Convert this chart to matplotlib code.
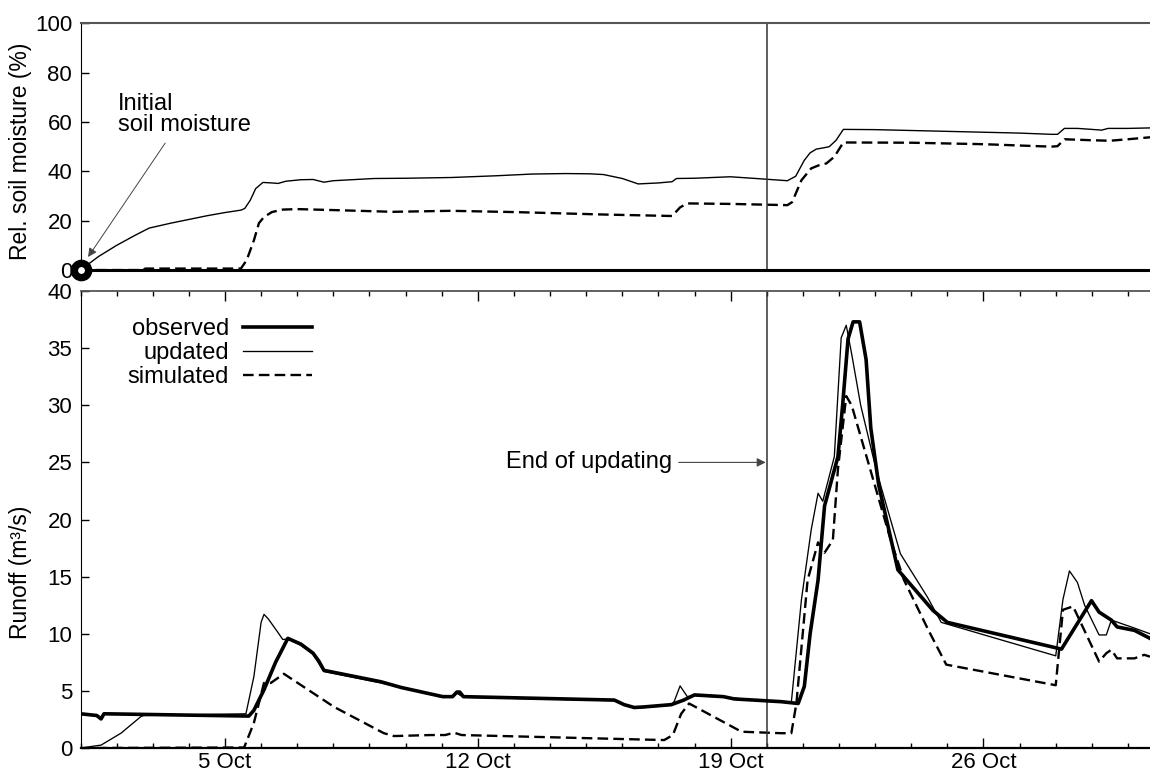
import matplotlib
matplotlib.use('Agg')
import matplotlib.pyplot as plt
from matplotlib.ticker import FixedLocator, MultipleLocator

plt.rcParams['font.family'] = ['Liberation Sans', 'DejaVu Sans']
plt.rcParams['font.size'] = 16

# time axis: day of October (1.0 = 1 Oct 00:00)
soil_upd_day = [1.0, 1.5, 2.0, 2.5, 2.9, 3.5, 4.0, 4.5, 5.0, 5.45, 5.55, 5.7, 5.85, 6.05,
                6.3, 6.47, 6.69, 7.1, 7.44, 7.74, 8.0, 9.13, 10.0, 11.26, 12.5, 13.5, 14.42,
                15.1, 15.48, 16.0, 16.44, 17.0, 17.38, 17.5, 18.0, 18.99, 19.8, 20.57, 20.8,
                21.04, 21.2, 21.37, 21.6, 21.73, 21.92, 22.12, 23.0, 25.0, 27.0, 27.88, 28.05,
                28.24, 28.6, 29.0, 29.27, 29.45, 30.0, 30.61]
soil_upd = [0, 5.5, 10, 14, 17, 19, 20.5, 22, 23.3, 24.3, 25, 28.3, 33, 35.5,
            35.3, 35.1, 36, 36.6, 36.7, 35.6, 36.2, 37.1, 37.2, 37.5, 38.2, 38.9, 39.1,
            39.0, 38.7, 37.1, 34.9, 35.3, 35.8, 37.1, 37.2, 37.8, 37.0, 36.2, 38.0,
            44.5, 47.5, 49, 49.6, 50, 52.6, 57, 56.9, 56.2, 55.5, 55, 55,
            57.4, 57.4, 57, 56.7, 57.4, 57.4, 57.6]

soil_sim_day = [1.0, 2.7, 2.8, 5.44, 5.6, 5.8, 5.94, 6.08, 6.3, 6.6, 7.0, 8.0, 9.65, 11.25,
                13.0, 15.48, 17.38, 17.6, 17.8, 19.0, 20.57, 20.7, 20.96, 21.23, 21.45, 21.65,
                21.87, 22.12, 24.0, 26.0, 27.88, 28.05, 28.24, 29.0, 29.5, 30.0, 30.61]
soil_sim = [0, 0, 0.6, 0.6, 4, 12, 19, 21.5, 23.5, 24.5, 24.7, 24.3, 23.6, 24,
            23.5, 22.5, 21.9, 25.4, 27, 26.8, 26.3, 27.5, 36.4, 41.2, 42.5, 43.2,
            45.9, 51.7, 51.6, 51, 50, 50.2, 53, 52.6, 52.4, 53, 53.8]

obs_day = [1.0, 1.45, 1.57, 1.65, 5.66, 5.8, 6.08, 6.4, 6.74, 7.1, 7.44, 7.6, 7.74, 9.32,
           9.88, 11.03, 11.3, 11.42, 11.5, 11.6, 15.78, 16.05, 16.33, 16.6, 17.36, 17.7,
           18.0, 18.8, 19.1, 20.4, 20.87, 21.04, 21.2, 21.42, 21.6, 21.97, 22.1, 22.25,
           22.39, 22.57, 22.75, 22.88, 23.1, 23.63, 24.6, 25.0, 28.16, 28.99, 29.2, 29.54,
           29.7, 30.18, 30.61]
obs_q = [3.0, 2.85, 2.55, 3.0, 2.8, 3.3, 5.1, 7.5, 9.6, 9.1, 8.3, 7.6, 6.8, 5.8,
         5.3, 4.5, 4.5, 4.9, 4.9, 4.5, 4.2, 3.8, 3.55, 3.6, 3.8, 4.2,
         4.65, 4.5, 4.3, 4.06, 3.9, 5.4, 10, 14.7, 21.2, 25.5, 30, 35.8,
         37.3, 37.3, 34, 28, 23, 15.6, 12.05, 11.0, 8.66, 12.9, 11.9, 11.2,
         10.6, 10.3, 9.6]

upd_day = [1.0, 1.57, 2.12, 2.67, 2.75, 5.58, 5.8, 6.0, 6.08, 6.2, 6.47, 6.6, 6.74, 7.1,
           7.44, 7.74, 9.32, 11.03, 11.3, 11.42, 11.6, 15.78, 16.33, 16.6, 17.36, 17.44,
           17.6, 17.8, 18.0, 18.8, 20.4, 20.68, 20.96, 21.23, 21.42, 21.55, 21.87, 22.06,
           22.2, 22.35, 22.6, 22.95, 23.17, 23.7, 24.45, 24.83, 28.0, 28.2, 28.38, 28.6,
           28.8, 29.2, 29.4, 29.54, 30.18, 30.61]
upd_q = [0, 0.26, 1.3, 2.75, 2.85, 3.0, 6.25, 11, 11.7, 11.3, 10.1, 9.5, 9.55, 9.0,
         8.2, 6.7, 5.7, 4.45, 4.45, 4.8, 4.45, 4.15, 3.5, 3.55, 3.75, 4.1,
         5.44, 4.5, 4.6, 4.45, 4.0, 4.0, 13, 19.1, 22.3, 21.6, 25.5, 35.9,
         37, 34.5, 30, 25.4, 22.8, 17, 13.2, 11.0, 8.07, 13, 15.5, 14.5,
         12.5, 9.9, 9.9, 11.2, 10.5, 10.0]

sim_day = [1.0, 5.53, 5.8, 6.08, 6.27, 6.63, 8.02, 9.4, 9.68, 10.7, 11.1, 11.34, 11.55,
           17.16, 17.4, 17.63, 17.85, 19.3, 20.4, 20.68, 20.82, 21.13, 21.42, 21.6, 21.83,
           21.97, 22.2, 22.35, 23.45, 23.8, 24.47, 24.97, 28.0, 28.2, 28.48, 29.2, 29.4,
           29.54, 29.7, 30.18, 30.45, 30.61]
sim_q = [0, 0.05, 2.2, 5.7, 5.7, 6.5, 3.6, 1.3, 1.05, 1.14, 1.14, 1.35, 1.14,
         0.7, 1.14, 3.0, 3.9, 1.43, 1.3, 1.3, 3.9, 14.7, 18, 17.1, 18.2,
         24.4, 30.8, 30, 18, 14.7, 10.35, 7.3, 5.5, 12.1, 12.4, 7.57, 8.3,
         8.6, 7.85, 7.85, 8.16, 8.0]

major_days = [5, 12, 19, 26]
major_labels = ['5 Oct', '12 Oct', '19 Oct', '26 Oct']
end_update_day = 20.0

DASH = (4.5, 2.2)

fig = plt.figure(figsize=(11.5, 7.76), dpi=100)
ax1 = fig.add_axes([0.070, 0.652, 0.930, 0.318])
ax2 = fig.add_axes([0.070, 0.036, 0.930, 0.589])

# --- top panel: relative soil moisture
ax1.plot(soil_upd_day, soil_upd, color='black', lw=1.0)
ax1.plot(soil_sim_day, soil_sim, color='black', lw=1.7, dashes=DASH)
ax1.plot([soil_upd_day[0]], [soil_upd[0]], 'o', ms=10.3, mew=5.3, mfc='white',
         mec='black', clip_on=False, zorder=5)
ax1.axvline(end_update_day, color='#333333', lw=1.1)
ax1.set_xlim(1.0, 30.61)
ax1.set_ylim(0, 100)
ax1.yaxis.set_major_locator(MultipleLocator(20))
ax1.tick_params(axis='y', direction='in', length=6, width=1, pad=6)
ax1.tick_params(axis='x', bottom=False, labelbottom=False)
ax1.set_ylabel('Rel. soil moisture (%)', fontsize=16.5)
ax1.yaxis.set_label_coords(-0.045, 0.48)
ax1.spines['right'].set_visible(False)
ax1.spines['bottom'].set_linewidth(2.2)
ax1.spines['top'].set_linewidth(1.5)
ax1.spines['top'].set_color('#555555')
ax1.annotate('Initial\nsoil moisture', xy=(1.21, 5.3), xytext=(2.04, 63),
             ha='left', va='center', linespacing=0.9, fontsize=17,
             arrowprops=dict(arrowstyle='-|>', color='#444444', lw=0.7,
                             mutation_scale=13, shrinkA=4, shrinkB=0))

# --- bottom panel: runoff
l_obs, = ax2.plot(obs_day, obs_q, color='black', lw=2.6, zorder=4, label='observed')
l_upd, = ax2.plot(upd_day, upd_q, color='black', lw=0.95, zorder=3, label='updated')
l_sim, = ax2.plot(sim_day, sim_q, color='black', lw=1.7, dashes=DASH, zorder=2,
                  label='simulated')
ax2.axvline(end_update_day, color='#333333', lw=1.1)
ax2.set_xlim(1.0, 30.61)
ax2.set_ylim(0, 40)
ax2.yaxis.set_major_locator(MultipleLocator(5))
ax2.xaxis.set_major_locator(FixedLocator(major_days))
ax2.xaxis.set_minor_locator(MultipleLocator(1))
ax2.set_xticklabels(major_labels)
ax2.tick_params(axis='y', direction='in', length=6, width=1, pad=6)
ax2.tick_params(axis='x', which='major', direction='in', length=7, width=1, pad=2.5,
                top=True)
ax2.tick_params(axis='x', which='minor', direction='in', length=3.5, width=1, top=True)
ax2.set_ylabel('Runoff (m³/s)', fontsize=16.5)
ax2.yaxis.set_label_coords(-0.045, 0.385)
ax2.spines['right'].set_visible(False)
ax2.spines['bottom'].set_linewidth(1.6)
ax2.spines['top'].set_linewidth(1.3)
ax2.spines['top'].set_color('#555555')

ax2.legend(handles=[l_obs, l_upd, l_sim], loc='upper right', bbox_to_anchor=(0.2165, 0.941),
           markerfirst=False, frameon=False, handlelength=2.92, handletextpad=0.6,
           labelspacing=0.085, borderpad=0, borderaxespad=0, fontsize=17)

ax2.annotate('End of updating', xy=(end_update_day - 0.03, 25.0), xytext=(17.37, 25.0),
             ha='right', va='center', fontsize=17,
             arrowprops=dict(arrowstyle='-|>', color='#444444', lw=0.8,
                             mutation_scale=13, shrinkA=3, shrinkB=0))

fig.savefig('out.png', dpi=100)
